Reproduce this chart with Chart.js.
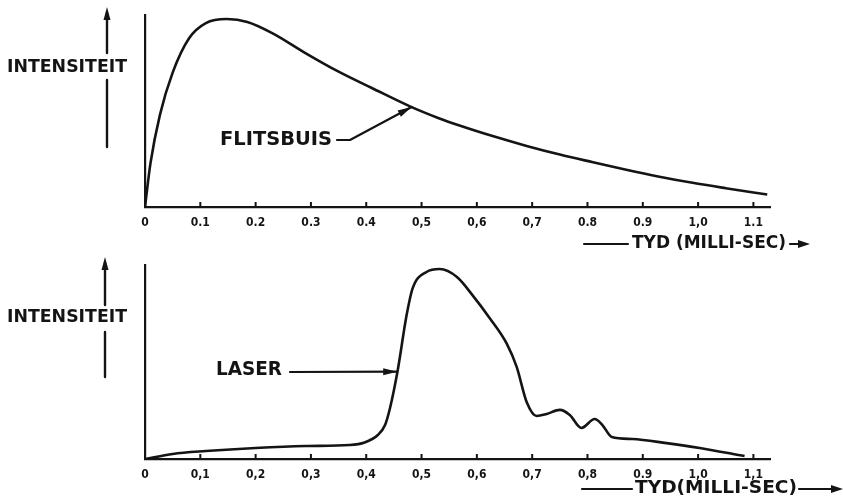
<!DOCTYPE html>
<html>
<head>
<meta charset="utf-8">
<script src="https://cdn.jsdelivr.net/npm/chart.js@4.4.1/dist/chart.umd.min.js"></script>
<style>
  body { margin: 0; background: #fff; }
  #wrap { position: relative; width: 843px; height: 502px; overflow: hidden; background: #fff; }
  canvas { position: absolute; left: 0; }
</style>
</head>
<body>
<div id="wrap">
  <canvas id="flits" width="843" height="250" style="top:0px"></canvas>
  <canvas id="laser" width="843" height="252" style="top:250px"></canvas>
</div>
<script>
const tickValues = [0, 0.1, 0.2, 0.3, 0.4, 0.5, 0.6, 0.7, 0.8, 0.9, 1.0, 1.1];
const flitsTickLabels = ["0", "0.1", "0.2", "0.3", "0.4", "0,5", "0,6", "0,7", "0.8", "0.9", "1,0", "1.1"];
const laserTickLabels = ["0", "0,1", "0,2", "0,3", "0,4", "0,5", "0,6", "0,7", "0,8", "0.9", "1,0", "1,1"];

// flitsbuis (flash tube) pulse, time in ms, intensity 0-100
const flitsTime = [0, 0.01, 0.027, 0.05, 0.08, 0.11, 0.148, 0.185, 0.23, 0.29, 0.35, 0.41, 0.48, 0.53, 0.57, 0.63, 0.69, 0.75, 0.81, 0.87, 0.93, 0.99, 1.05, 1.125];
const flitsIntensity = [0, 23, 48, 70, 88, 95.8, 97.9, 96.4, 90.6, 80.2, 70.5, 62, 52.3, 46.4, 42.3, 36.8, 31.8, 27.3, 23.3, 19.4, 15.8, 12.6, 9.8, 6.5];

// laser pulse
const laserTime = [0, 0.05, 0.11, 0.2, 0.29, 0.37, 0.397, 0.421, 0.434, 0.443, 0.457, 0.473, 0.484, 0.509, 0.533, 0.564, 0.592, 0.623, 0.654, 0.672, 0.69, 0.708, 0.726, 0.75, 0.768, 0.789, 0.813, 0.827, 0.844, 0.881, 0.943, 1.003, 1.084];
const laserIntensity = [0, 2.6, 4.1, 5.7, 6.7, 7.2, 8.5, 12.4, 17.5, 26.3, 45.9, 74.2, 88.1, 96.4, 97.9, 93.8, 84.5, 72.7, 59.5, 47.5, 29.4, 22.2, 23.2, 25.3, 22.7, 16.0, 20.6, 17.5, 11.3, 10.3, 8.2, 5.7, 1.5];

const INK = "#141414";
const HAND = "'DejaVu Sans Condensed', 'DejaVu Sans', sans-serif";

function toPoints(xs, ys) {
    return xs.map((x, i) => ({ x: x, y: ys[i] }));
}

function fitText(ctx, text, left, right, cy, size) {
    ctx.save();
    ctx.font = "bold " + size + "px " + HAND;
    ctx.textBaseline = "middle";
    ctx.textAlign = "left";
    const w = ctx.measureText(text).width;
    ctx.translate(left, cy);
    ctx.scale((right - left) / w, 1);
    ctx.fillStyle = INK;
    ctx.fillText(text, 0, 0);
    ctx.restore();
}

function strokePath(ctx, pts, width) {
    ctx.save();
    ctx.strokeStyle = INK;
    ctx.lineWidth = width;
    ctx.lineCap = "round";
    ctx.lineJoin = "round";
    ctx.beginPath();
    pts.forEach((p, i) => i ? ctx.lineTo(p[0], p[1]) : ctx.moveTo(p[0], p[1]));
    ctx.stroke();
    ctx.restore();
}

function arrowHead(ctx, x0, y0, x1, y1, len, half) {
    const a = Math.atan2(y1 - y0, x1 - x0);
    ctx.save();
    ctx.fillStyle = INK;
    ctx.beginPath();
    ctx.moveTo(x1, y1);
    ctx.lineTo(x1 - len * Math.cos(a) + half * Math.sin(a), y1 - len * Math.sin(a) - half * Math.cos(a));
    ctx.lineTo(x1 - len * Math.cos(a) - half * Math.sin(a), y1 - len * Math.sin(a) + half * Math.cos(a));
    ctx.closePath();
    ctx.fill();
    ctx.restore();
}

function decorPlugin(cfg) {
    return {
        id: "decor",
        afterDraw(chart) {
            const ctx = chart.ctx;
            const xs = chart.scales.x;
            const ys = chart.scales.y;
            const o = cfg.offset;

            // tick marks stand up from the axis
            ctx.save();
            ctx.strokeStyle = INK;
            ctx.lineWidth = 2;
            tickValues.forEach(v => {
                const px = xs.getPixelForValue(v);
                ctx.beginPath();
                ctx.moveTo(px, xs.top);
                ctx.lineTo(px, xs.top - 5);
                ctx.stroke();
            });
            ctx.restore();

            // INTENSITEIT with broken up-arrow
            fitText(ctx, "INTENSITEIT", 7, 127, cfg.labelY - o, 18);
            strokePath(ctx, [[cfg.arrowX, cfg.arrowTop + 6 - o], [cfg.arrowX, cfg.gapTop - o]], 2.4);
            strokePath(ctx, [[cfg.arrowX, cfg.gapBottom - o], [cfg.arrowX, cfg.arrowBottom - o]], 2.4);
            arrowHead(ctx, cfg.arrowX, cfg.gapTop - o, cfg.arrowX, cfg.arrowTop - o, 13, 3.5);

            // curve name with pointer
            fitText(ctx, cfg.name, cfg.nameBox[0], cfg.nameBox[1], cfg.nameBox[2] - o, 19);
            const tipX = xs.getPixelForValue(cfg.pointerAt[0]);
            const tipY = ys.getPixelForValue(cfg.pointerAt[1]);
            const from = cfg.pointerFrom.map(p => [p[0], p[1] - o]);
            strokePath(ctx, from.concat([[tipX, tipY]]), 2.2);
            const last = from[from.length - 1];
            arrowHead(ctx, last[0], last[1], tipX, tipY, 14, 3.5);

            // time axis caption
            const ty = cfg.timeY - o;
            strokePath(ctx, [[cfg.timeLead[0], ty], [cfg.timeLead[1], ty]], 2.2);
            fitText(ctx, cfg.timeText, cfg.timeBox[0], cfg.timeBox[1], ty, 17);
            strokePath(ctx, [[cfg.timeTail[0], ty], [cfg.timeTail[1] - 8, ty]], 2.2);
            arrowHead(ctx, cfg.timeTail[0], ty, cfg.timeTail[1], ty, 12, 4);
        }
    };
}

function makeChart(id, time, intensity, tickLabels, cfg) {
    const ctx = document.getElementById(id).getContext("2d");
    return new Chart(ctx, {
        type: "line",
        data: {
            datasets: [{
                data: toPoints(time, intensity),
                borderColor: INK,
                borderWidth: 2.6,
                pointRadius: 0,
                fill: false,
                cubicInterpolationMode: "monotone"
            }]
        },
        options: {
            responsive: false,
            animation: false,
            devicePixelRatio: 1,
            layout: { padding: { left: 145, right: 73, top: 15, bottom: cfg.bottomPad } },
            plugins: { legend: { display: false }, tooltip: { enabled: false } },
            scales: {
                x: {
                    type: "linear",
                    min: 0,
                    max: 1.13,
                    afterBuildTicks: s => { s.ticks = tickValues.map(v => ({ value: v })); },
                    afterFit: s => { s.height = 30; },
                    grid: { display: false },
                    border: { display: true, color: INK, width: 2.2 },
                    ticks: {
                        autoSkip: false,
                        maxRotation: 0,
                        padding: 1,
                        color: INK,
                        font: { family: HAND, size: 12, weight: "bold" },
                        callback: (v, i) => tickLabels[i]
                    }
                },
                y: {
                    min: 0,
                    max: 100,
                    afterFit: s => { s.width = 0; },
                    ticks: { display: false },
                    grid: { display: false },
                    border: { display: true, color: INK, width: 2.2 }
                }
            }
        },
        plugins: [decorPlugin(cfg)]
    });
}

makeChart("flits", flitsTime, flitsIntensity, flitsTickLabels, {
    offset: 0,
    bottomPad: 13,
    labelY: 67,
    arrowX: 107, arrowTop: 7, gapTop: 53, gapBottom: 80, arrowBottom: 147,
    name: "FLITSBUIS",
    nameBox: [220, 332, 140],
    pointerFrom: [[337, 140], [350, 140]],
    pointerAt: [0.482, 52.1],
    timeText: "TYD (MILLI-SEC)",
    timeBox: [632, 786, 244],
    timeY: 244,
    timeLead: [584, 628],
    timeTail: [790, 810]
});

makeChart("laser", laserTime, laserIntensity, laserTickLabels, {
    offset: 250,
    bottomPad: 13,
    labelY: 317,
    arrowX: 105, arrowTop: 257, gapTop: 305, gapBottom: 332, arrowBottom: 377,
    name: "LASER",
    nameBox: [216, 282, 370],
    pointerFrom: [[290, 372]],
    pointerAt: [0.456, 45],
    timeText: "TYD(MILLI-SEC)",
    timeBox: [635, 797, 489],
    timeY: 489,
    timeLead: [582, 632],
    timeTail: [799, 843]
});
</script>
</body>
</html>
